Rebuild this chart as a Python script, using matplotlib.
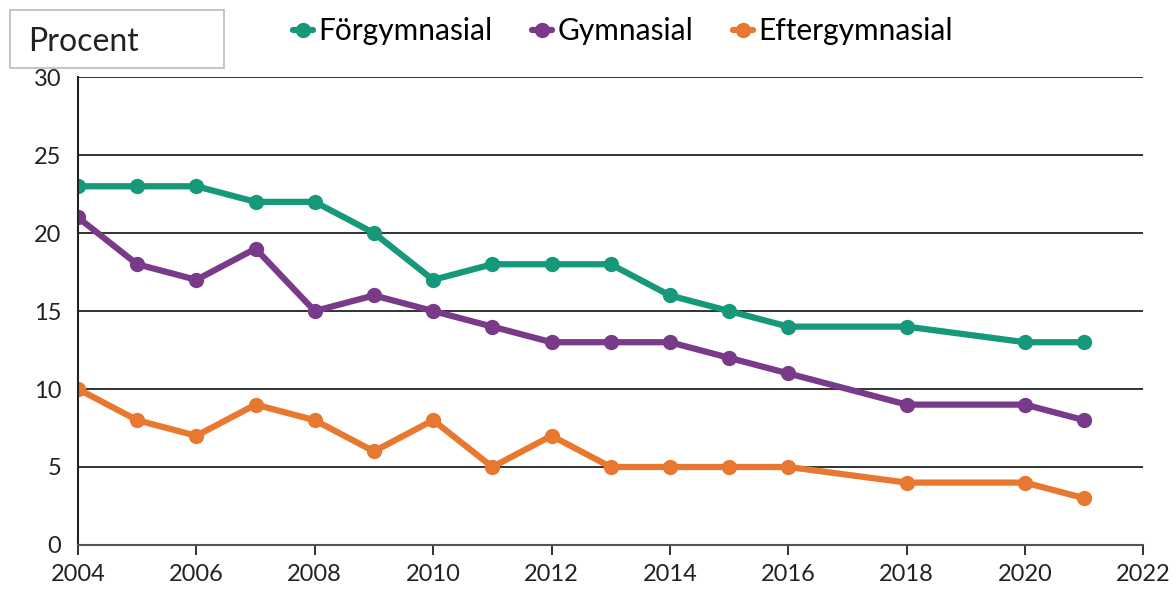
import matplotlib
matplotlib.use("Agg")
import matplotlib.pyplot as plt
from matplotlib.patches import Rectangle

plt.rcParams['font.family'] = ['Lato', 'DejaVu Sans']

years = [2004, 2005, 2006, 2007, 2008, 2009, 2010, 2011, 2012, 2013, 2014, 2015, 2016, 2018, 2020, 2021]
forgymnasial = [23, 23, 23, 22, 22, 20, 17, 18, 18, 18, 16, 15, 14, 14, 13, 13]
gymnasial = [21, 18, 17, 19, 15, 16, 15, 14, 13, 13, 13, 12, 11, 9, 9, 8]
eftergymnasial = [10, 8, 7, 9, 8, 6, 8, 5, 7, 5, 5, 5, 5, 4, 4, 3]
series_names = ["Förgymnasial", "Gymnasial", "Eftergymnasial"]
colors = ["#16997A", "#7A3A8A", "#E8782F"]
xticks = list(range(2004, 2023, 2))
yticks = [0, 5, 10, 15, 20, 25, 30]

fig = plt.figure(figsize=(11.76, 5.93), dpi=100)
ax = fig.add_axes([0.0663, 0.081, 0.906, 0.789])

for vals, name, c in zip([forgymnasial, gymnasial, eftergymnasial], series_names, colors):
    ax.plot(years, vals, color=c, lw=4.5, marker='o', ms=10, label=name, solid_capstyle='round')

ax.set_xlim(2004, 2022)
ax.set_ylim(0, 30)
ax.set_xticks(xticks)
ax.set_yticks(yticks)
ax.yaxis.grid(True, color='#222222', lw=1.3)
ax.set_axisbelow(True)
for s in ['top', 'right']:
    ax.spines[s].set_visible(False)
ax.spines['left'].set_color('#222222')
ax.spines['left'].set_linewidth(1.5)
ax.spines['bottom'].set_color('#555555')
ax.spines['bottom'].set_linewidth(1.5)
ax.tick_params(axis='y', length=0, labelsize=17, pad=12, colors='#222222')
ax.tick_params(axis='x', length=7, width=1.3, direction='out', labelsize=17, colors='#222222', pad=7)

leg = fig.legend(loc='center left', bbox_to_anchor=(0.249, 0.947), ncol=3, frameon=False,
                 fontsize=21.5, handlelength=0.67, handletextpad=0.17, columnspacing=1.35,
                 borderaxespad=0.0, borderpad=0.0)

fig.patches.append(Rectangle((0.0085, 0.885), 0.182, 0.098, transform=fig.transFigure,
                             fc='white', ec='#bbbbbb', lw=1.2, zorder=0))
fig.text(0.024, 0.930, "Procent", fontsize=23, color='#222222', va='center', ha='left')

fig.savefig("out.png", dpi=100)
